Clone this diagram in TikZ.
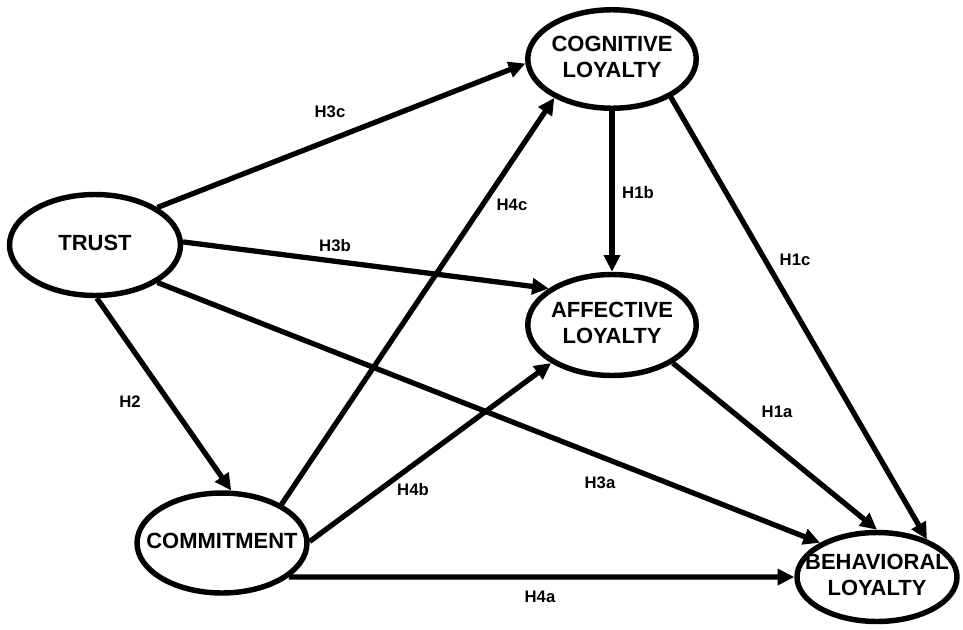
\documentclass[tikz,border=0pt]{standalone}
\usepackage{fontspec}
\setmainfont{Liberation Sans}
\usetikzlibrary{arrows.meta,shapes.geometric}
\newcommand{\ctext}[1]{\makebox[0pt]{\begin{tabular}{@{}c@{}}#1\end{tabular}}}

\begin{document}
\begin{tikzpicture}[
  x=0.02cm, y=-0.02cm,
  >={Triangle[length=9.5pt,width=9pt]},
  construct/.style={
    ellipse, draw=black, line width=3.1pt, fill=white, inner sep=0pt,
    font=\fontsize{12.5}{14.8}\selectfont\bfseries
  },
  link/.style={->, line width=3pt},
  hyp/.style={font=\fontsize{9.5}{10}\selectfont\bfseries, inner sep=1pt}
]

\useasboundingbox (0,0) rectangle (963,629);

% constructs
\node[construct, minimum width=3.42cm, minimum height=2.02cm] (trust) at (95,245) {\ctext{TRUST}};
\node[construct, minimum width=3.37cm, minimum height=1.97cm] (cog) at (612,59) {\ctext{COGNITIVE\\LOYALTY}};
\node[construct, minimum width=3.37cm, minimum height=2.02cm] (aff) at (612,325) {\ctext{AFFECTIVE\\LOYALTY}};
\node[construct, minimum width=3.4cm, minimum height=2cm] (com) at (222,543) {\ctext{COMMITMENT}};
\node[construct, minimum width=3.2cm, minimum height=1.78cm] (beh) at (877,577) {\ctext{BEHAVIORAL\\LOYALTY}};

% hypotheses
\draw[link] (trust.31) -- (cog.183);
\draw[link] (trust.2) -- (aff.150);
\draw[link] (trust.-31) -- (beh.149);
\draw[link] (trust.-88) -- (com.80);
\draw[link] (com.33) -- (cog.214);
\draw[link] (com.1) -- (aff.212);
\draw[link] (com.-27) -- (beh.west);
\draw[link] (cog.south) -- (aff.north);
\draw[link] (cog.-33) -- (beh.37);
\draw[link] (aff.-32) -- (beh.north);

% labels
\node[hyp] (h3c) at (330,112) {H3c};
\node[hyp] (h3b) at (335,246) {H3b};
\node[hyp] (h3a) at (600,483) {H3a};
\node[hyp] (h2) at (130,402) {H2};
\node[hyp] (h4c) at (512,205) {H4c};
\node[hyp] (h4b) at (413,490) {H4b};
\node[hyp] (h4a) at (540,597) {H4a};
\node[hyp] (h1b) at (638,193) {H1b};
\node[hyp] (h1c) at (795,260) {H1c};
\node[hyp] (h1a) at (777,412) {H1a};

\end{tikzpicture}
\end{document}
